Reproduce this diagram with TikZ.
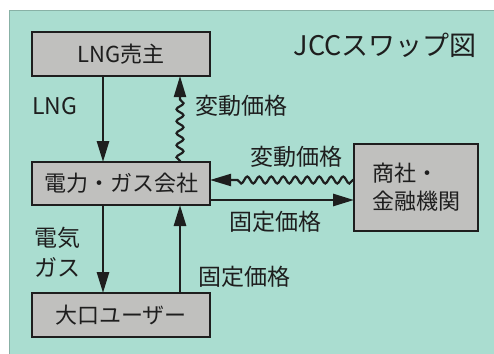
\documentclass[tikz,border=0pt]{standalone}
\usepackage{fontspec}
\setmainfont{Noto Sans CJK JP}
\usetikzlibrary{arrows.meta,decorations.pathmorphing}
\definecolor{panel}{RGB}{170,221,208}
\definecolor{boxgray}{RGB}{192,192,190}
\definecolor{ink}{RGB}{30,30,30}
\tikzset{
  ent/.style={draw=ink, line width=1.2pt, fill=boxgray, text=ink, inner sep=0pt, font=\fontsize{22}{25}\selectfont},
  lbl/.style={text=ink, inner sep=0pt, font=\fontsize{23}{26}\selectfont},
  flow/.style={draw=ink, line width=2.8pt, -{Triangle[length=21pt,width=12pt]}},
  wave/.style={draw=ink, line width=2.2pt, -{Triangle[length=21pt,width=12pt]},
    decorate, decoration={snake, amplitude=3.5pt, segment length=12pt, post length=22pt, pre length=1pt}}
}
\begin{document}
\begin{tikzpicture}[x=1pt,y=-1pt]
\useasboundingbox (0,0) rectangle (494,353);
\fill[white] (0,0) rectangle (494,353);
\filldraw[fill=panel, draw=panel!80!black, line width=0.6pt] (9,10) rectangle (496,356);
% boxes
\node[ent, minimum width=178pt, minimum height=44pt] (seller) at (121,54) {LNG売主};
\node[ent, minimum width=178pt, minimum height=43pt] (util) at (121,183.5) {電力・ガス会社};
\node[ent, minimum width=178pt, minimum height=44pt] (user) at (121,315) {大口ユーザー};
\node[ent, minimum width=124pt, minimum height=87pt, align=left, font=\fontsize{22}{28}\selectfont] (bank) at (416,187.5) {商社・\\金融機関};
% title
\node[lbl, anchor=east, font=\fontsize{27}{30}\selectfont] (title) at (477,45) {JCCスワップ図};
% coordinates
\coordinate (sb1) at (103,76);
\coordinate (ut1) at (103,162);
\coordinate (sb2) at (180,76);
\coordinate (ut2) at (180,162);
\coordinate (ub1) at (103,205);
\coordinate (us1) at (103,293);
\coordinate (ub2) at (180,205);
\coordinate (us2) at (180,293);
\coordinate (ur1) at (210,180);
\coordinate (bl1) at (354,180);
\coordinate (ur2) at (210,200);
\coordinate (bl2) at (354,200);
% arrows
\draw[flow] (sb1) -- (ut1);
\draw[wave] (ut2) -- (sb2);
\draw[flow] (ub1) -- (us1);
\draw[flow] (us2) -- (ub2);
\draw[wave] (bl1) -- (ur1);
\draw[flow] (ur2) -- (bl2);
% labels
\node[lbl, anchor=west] (lng) at (32,106) {LNG};
\node[lbl, anchor=west] (v1) at (195,106) {変動価格};
\node[lbl, anchor=west] (v2) at (250,157) {変動価格};
\node[lbl, anchor=west] (f1) at (229,222) {固定価格};
\node[lbl, anchor=west, align=left, font=\fontsize{23}{30}\selectfont] (eg) at (34,252) {電気\\ガス};
\node[lbl, anchor=west] (f2) at (198,277) {固定価格};
\end{tikzpicture}
\end{document}
